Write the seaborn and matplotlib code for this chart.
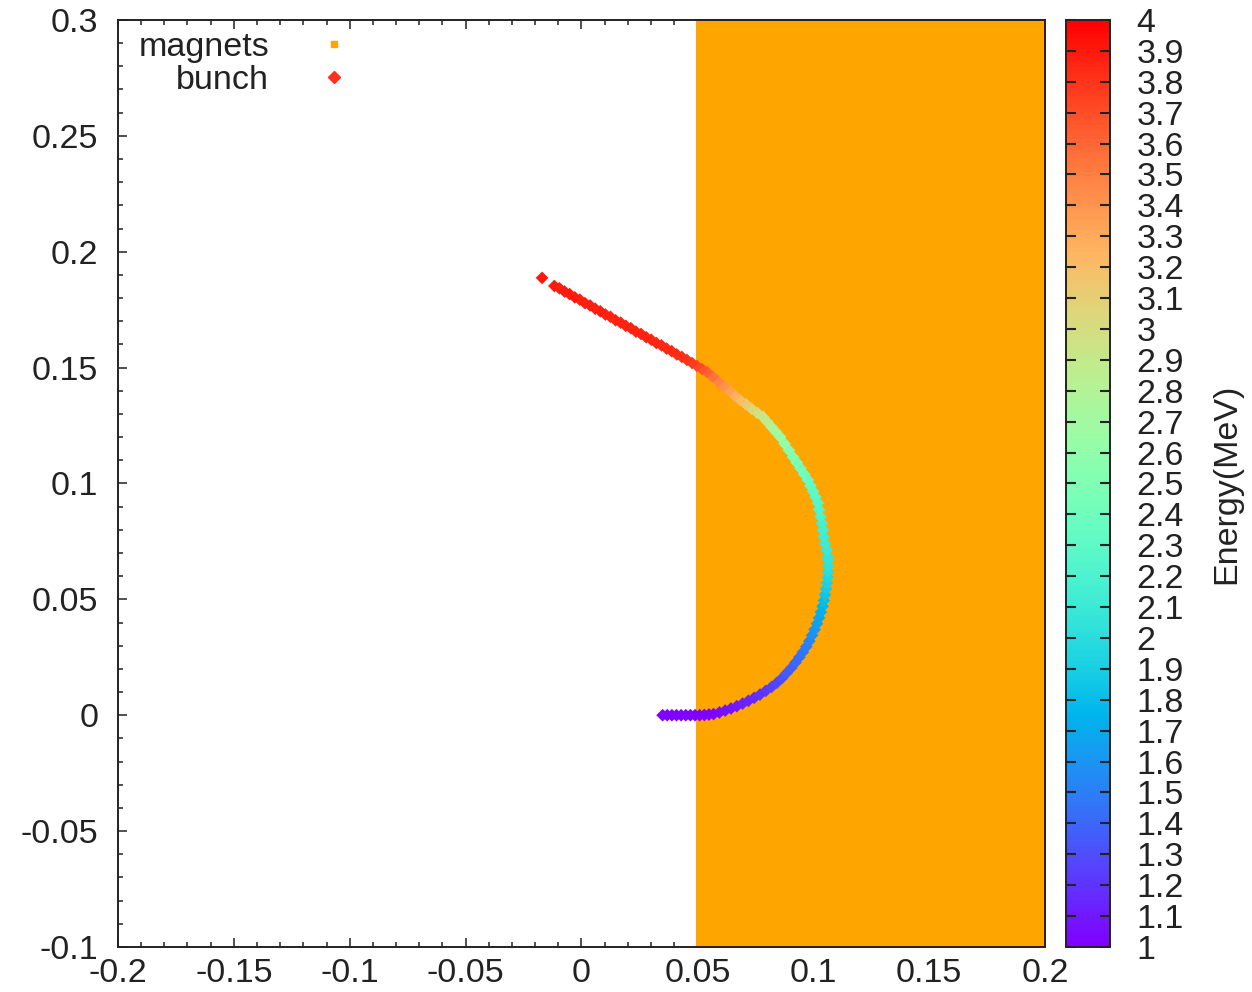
import numpy as np
import pandas as pd
import matplotlib
matplotlib.use("Agg")
import matplotlib.pyplot as plt
import seaborn as sns
from matplotlib.lines import Line2D
from matplotlib.ticker import MultipleLocator, FuncFormatter
from matplotlib.cm import ScalarMappable
from matplotlib.colors import Normalize

# ---------------- data ----------------
x_bunch = [
    0.035, 0.037, 0.039, 0.041, 0.043, 0.045, 0.047, 0.049, 0.051, 0.053, 0.055,
    0.057, 0.0595, 0.062, 0.0645, 0.067, 0.0695, 0.072, 0.0745, 0.077, 0.0795,
    0.082, 0.0843, 0.0865, 0.0885, 0.0905, 0.0923, 0.0940, 0.0955, 0.0970, 0.0983,
    0.0995, 0.1006, 0.1016, 0.1025, 0.1033, 0.1040, 0.1046, 0.1051, 0.1055, 0.1059,
    0.1062, 0.1064, 0.1065, 0.1064,
    0.1063, 0.1058, 0.1051, 0.1045, 0.1042, 0.1037, 0.1031, 0.1025, 0.1020, 0.1010,
    0.0999, 0.0988, 0.0977, 0.0961, 0.0945, 0.0929, 0.0913, 0.0895, 0.0876, 0.0857,
    0.0838, 0.0820, 0.0801, 0.0783, 0.0758, 0.0733, 0.0709, 0.0684, 0.0660, 0.0637,
    0.0613, 0.0589, 0.0566, 0.0542, 0.0520, 0.0498, 0.0477, 0.0455,
    0.0433, 0.0411, 0.0389, 0.0367, 0.0345, 0.0323, 0.0301, 0.0279, 0.0257, 0.0235,
    0.0213, 0.0191, 0.0169, 0.0147, 0.0125, 0.0103, 0.0081, 0.0059, 0.0037, 0.0015,
    -0.0007, -0.0029, -0.0051, -0.0073, -0.0095, -0.0117, -0.0170,
]
y_bunch = [
    0.0, 0.0, 0.0, 0.0, 0.0, 0.0, 0.0, 0.0, 0.0, 0.0001, 0.0003,
    0.0005, 0.0012, 0.0020, 0.0029, 0.0039, 0.0050, 0.0062, 0.0075, 0.0089, 0.0105,
    0.0122, 0.0140, 0.0160, 0.0182, 0.0204, 0.0227, 0.0250, 0.0272, 0.0296, 0.0320,
    0.0345, 0.0370, 0.0395, 0.0420, 0.0445, 0.0470, 0.0495, 0.0520, 0.0545, 0.0570,
    0.0595, 0.0620, 0.0645, 0.0670,
    0.0685, 0.0713, 0.0741, 0.0770, 0.0799, 0.0828, 0.0857, 0.0887, 0.0916, 0.0941,
    0.0966, 0.0990, 0.1015, 0.1040, 0.1065, 0.1090, 0.1114, 0.1143, 0.1172, 0.1201,
    0.1223, 0.1244, 0.1266, 0.1287, 0.1305, 0.1323, 0.1342, 0.1360, 0.1380, 0.1400,
    0.1420, 0.1441, 0.1461, 0.1481, 0.1494, 0.1507, 0.1520, 0.1533,
    0.1546, 0.1557, 0.1571, 0.1582, 0.1596, 0.1606, 0.1620, 0.1631, 0.1645, 0.1655,
    0.1670, 0.1680, 0.1694, 0.1704, 0.1719, 0.1729, 0.1743, 0.1754, 0.1768, 0.1778,
    0.1793, 0.1803, 0.1817, 0.1828, 0.1842, 0.1852, 0.1887,
]
e_bunch = [
    1.0, 1.0, 1.0, 1.0, 1.0, 1.0, 1.0, 1.0, 1.0, 1.01, 1.01,
    1.02, 1.04, 1.06, 1.08, 1.10, 1.12, 1.14, 1.16, 1.19, 1.22,
    1.25, 1.28, 1.31, 1.34, 1.37, 1.40, 1.43, 1.46, 1.49, 1.52,
    1.56, 1.60, 1.64, 1.68, 1.72, 1.76, 1.80, 1.84, 1.88, 1.92,
    1.96, 2.00, 2.03, 2.05,
    2.06, 2.09, 2.11, 2.13, 2.15, 2.17, 2.19, 2.22, 2.25, 2.27,
    2.30, 2.32, 2.35, 2.39, 2.43, 2.46, 2.50, 2.55, 2.60, 2.65,
    2.71, 2.77, 2.84, 2.90, 2.98, 3.05, 3.13, 3.20, 3.27, 3.34,
    3.41, 3.48, 3.55, 3.62, 3.68, 3.73, 3.77, 3.80,
    3.82, 3.83, 3.84, 3.84, 3.85, 3.85, 3.85, 3.86, 3.86, 3.86,
    3.86, 3.87, 3.87, 3.87, 3.87, 3.87, 3.88, 3.88, 3.88, 3.88,
    3.88, 3.89, 3.89, 3.89, 3.89, 3.89, 3.90,
]
magnet_x = [0.05, 0.2]
x_ticks_major = [-0.2, -0.15, -0.1, -0.05, 0.0, 0.05, 0.1, 0.15, 0.2]
y_ticks_major = [-0.1, -0.05, 0.0, 0.05, 0.1, 0.15, 0.2, 0.25, 0.3]
energy_range = [1.0, 4.0]
cbar_ticks = [1.0, 1.1, 1.2, 1.3, 1.4, 1.5, 1.6, 1.7, 1.8, 1.9, 2.0, 2.1, 2.2, 2.3, 2.4,
              2.5, 2.6, 2.7, 2.8, 2.9, 3.0, 3.1, 3.2, 3.3, 3.4, 3.5, 3.6, 3.7, 3.8, 3.9, 4.0]
legend_labels = ["magnets", "bunch"]

df = pd.DataFrame({"x": x_bunch, "y": y_bunch, "E": e_bunch})

# ---------------- style ----------------
sns.set_theme(style="ticks")
plt.rcParams["font.family"] = ["Liberation Sans", "DejaVu Sans"]
FS = 24.5
TXT = "#222222"

fig = plt.figure(figsize=(12.52, 9.92), dpi=100)
ax = fig.add_axes([0.0942, 0.0454, 0.7405, 0.9345])
cax = fig.add_axes([0.8514, 0.0454, 0.0351, 0.9345])

# magnets region
ax.axvspan(magnet_x[0], magnet_x[1], facecolor="#FFA500", edgecolor="#FFA500",
           lw=1.5, zorder=2.7, clip_on=False)

# bunch
sns.scatterplot(data=df, x="x", y="y", hue="E", palette="rainbow",
                hue_norm=tuple(energy_range), marker="D", s=42, linewidth=0,
                legend=False, ax=ax, zorder=4)

ax.set_xlim(-0.2, 0.2)
ax.set_ylim(-0.1, 0.3)
ax.set_xlabel("")
ax.set_ylabel("")
ax.set_xticks(x_ticks_major)
ax.set_yticks(y_ticks_major)
ax.xaxis.set_minor_locator(MultipleLocator(0.01))
ax.yaxis.set_minor_locator(MultipleLocator(0.01))

def fmt(v, p):
    v = round(v, 4)
    if v == 0:
        return "0"
    return f"{v:g}"

ax.xaxis.set_major_formatter(FuncFormatter(fmt))
ax.yaxis.set_major_formatter(FuncFormatter(fmt))
ax.tick_params(which="both", direction="in", top=True, right=True, bottom=True,
               left=True, colors=TXT, labelsize=FS, width=1.1)
ax.tick_params(which="major", length=6.5)
ax.tick_params(which="minor", length=3.5)
ax.tick_params(axis="y", which="major", pad=14)
ax.tick_params(axis="x", which="major", pad=8)
for sp in ax.spines.values():
    sp.set_zorder(3)
    sp.set_linewidth(1.4)
    sp.set_color(TXT)
    sp.set_visible(True)
ax.set_facecolor("white")

# legend (gnuplot-like: right-aligned text, marker after)
handles = [
    Line2D([], [], marker="s", color="#FFA500", ls="", ms=5),
    Line2D([], [], marker="D", color="#FF3020", ls="", ms=6),
]
leg = ax.legend(handles, legend_labels, loc="upper left", bbox_to_anchor=(0.022, 0.987),
                markerfirst=False, frameon=False, fontsize=FS, handletextpad=0.9,
                handlelength=2.0, labelspacing=0.05, borderaxespad=0, borderpad=0)
for t in leg.get_texts():
    t.set_color(TXT)
leg.set_zorder(6)

# colorbar
sm = ScalarMappable(norm=Normalize(*energy_range), cmap="rainbow")
cb = fig.colorbar(sm, cax=cax)
cb.set_ticks(cbar_ticks)
cb.ax.yaxis.set_major_formatter(FuncFormatter(fmt))
cb.ax.minorticks_off()
cb.solids.set_zorder(0.5)
cb.ax.set_axisbelow(False)
cb.ax.yaxis.set_tick_params(which="major", direction="in", left=True, right=True,
                            labelleft=False, labelright=True, length=7, width=1.5,
                            color=TXT, labelcolor=TXT, labelsize=FS, pad=19)
for t in cb.ax.yaxis.get_major_ticks():
    t.tick1line.set_zorder(5)
    t.tick2line.set_zorder(5)
cb.outline.set_linewidth(1.4)
cb.outline.set_edgecolor(TXT)
cb.set_label("Energy(MeV)", fontsize=FS, color=TXT, labelpad=20)

fig.savefig("out.png", dpi=100)
